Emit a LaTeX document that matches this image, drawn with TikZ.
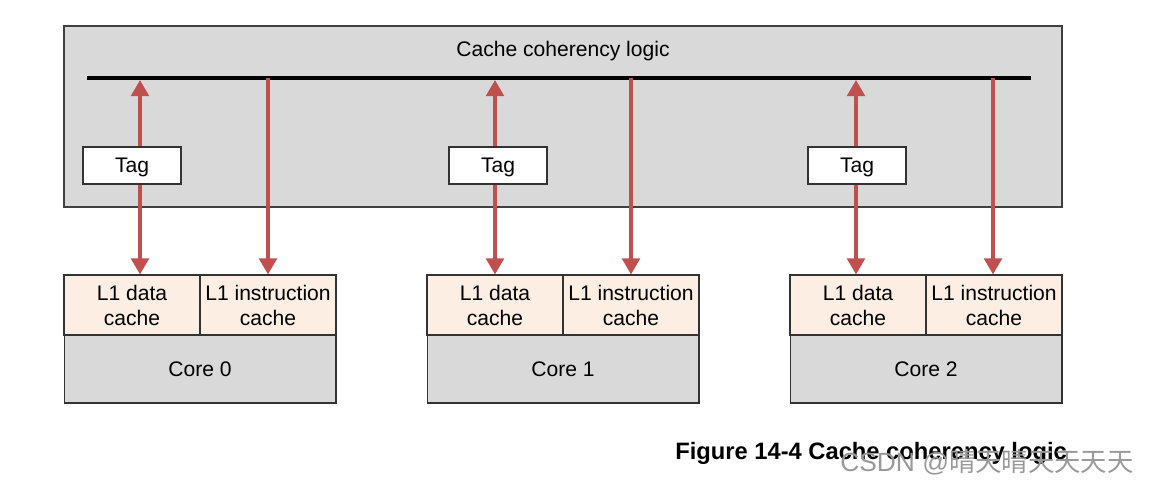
\documentclass[tikz,border=0pt]{standalone}
\usepackage{fontspec}
\setmainfont{Liberation Sans}
\newfontfamily\cjk{Noto Sans CJK SC}
\usetikzlibrary{arrows.meta}
\definecolor{boxgray}{HTML}{D9D9D9}
\definecolor{cachefill}{HTML}{FCEEE3}
\definecolor{linkred}{HTML}{C0504D}
\definecolor{edgegray}{HTML}{404040}
\tikzset{
  logicbox/.style={draw=edgegray, line width=0.8pt, fill=boxgray, minimum width=19.96cm, minimum height=3.62cm},
  tagbox/.style={draw=black!80, line width=0.6pt, fill=white, minimum width=1.96cm, minimum height=0.74cm, text depth=0pt},
  cachebox/.style={draw=black!80, line width=0.6pt, fill=cachefill, minimum width=2.72cm, minimum height=1.2cm, align=center},
  corebox/.style={draw=black!80, line width=0.6pt, fill=boxgray, minimum width=5.44cm, minimum height=1.36cm},
  redtip/.tip={Triangle[width=0.35cm,length=0.32cm]},
  link/.style={draw=linkred, line width=2pt, -redtip},
  linkboth/.style={draw=linkred, line width=2pt, redtip-redtip},
  bus/.style={line width=2.3pt}
}
\begin{document}
\begin{tikzpicture}[x=0.02cm, y=-0.02cm, font=\fontsize{12}{14.2}\selectfont, inner sep=0pt]
  \useasboundingbox (0,0) rectangle (1149,485);

  % Coherency logic
  \node[logicbox] (logic) at (563,116.5) {};
  \node[text depth=0pt] (title) at (563,49) {Cache coherency logic};
  \coordinate (buswest) at (87,78);
  \coordinate (buseast) at (1031,78);
  \draw[bus] (buswest) -- (buseast);

  % Cores with caches, tags and links
  \foreach \i/\cx/\tx/\dx/\ix in {0/64/132/140/268, 1/427/498/495/631, 2/790/857/856/993} {
    \node[cachebox] (dcache\i) at (\cx+68,305) {L1 data\\cache};
    \node[cachebox] (icache\i) at (\cx+204,305) {L1 instruction\\cache};
    \node[corebox] (core\i) at (\cx+136,369) {Core \i};
    \coordinate (dbus\i) at (\dx,80);
    \coordinate (ibus\i) at (\ix,78);
    \draw[linkboth] (dbus\i) -- (dcache\i.north -| dbus\i);
    \draw[link] (ibus\i) -- (icache\i.north -| ibus\i);
    \node[tagbox] (tag\i) at (\tx,165.5) {Tag};
  }

  % Caption
  \node[anchor=west, font=\fontsize{13.5}{16}\selectfont\bfseries] (caption) at (675,453) {Figure 14-4 Cache coherency logic};
  \node[anchor=west, text=black!40, font=\fontsize{15}{17}\selectfont] (mark) at (840,462) {CSDN @{\cjk 晴天晴天天天天}};
\end{tikzpicture}
\end{document}
